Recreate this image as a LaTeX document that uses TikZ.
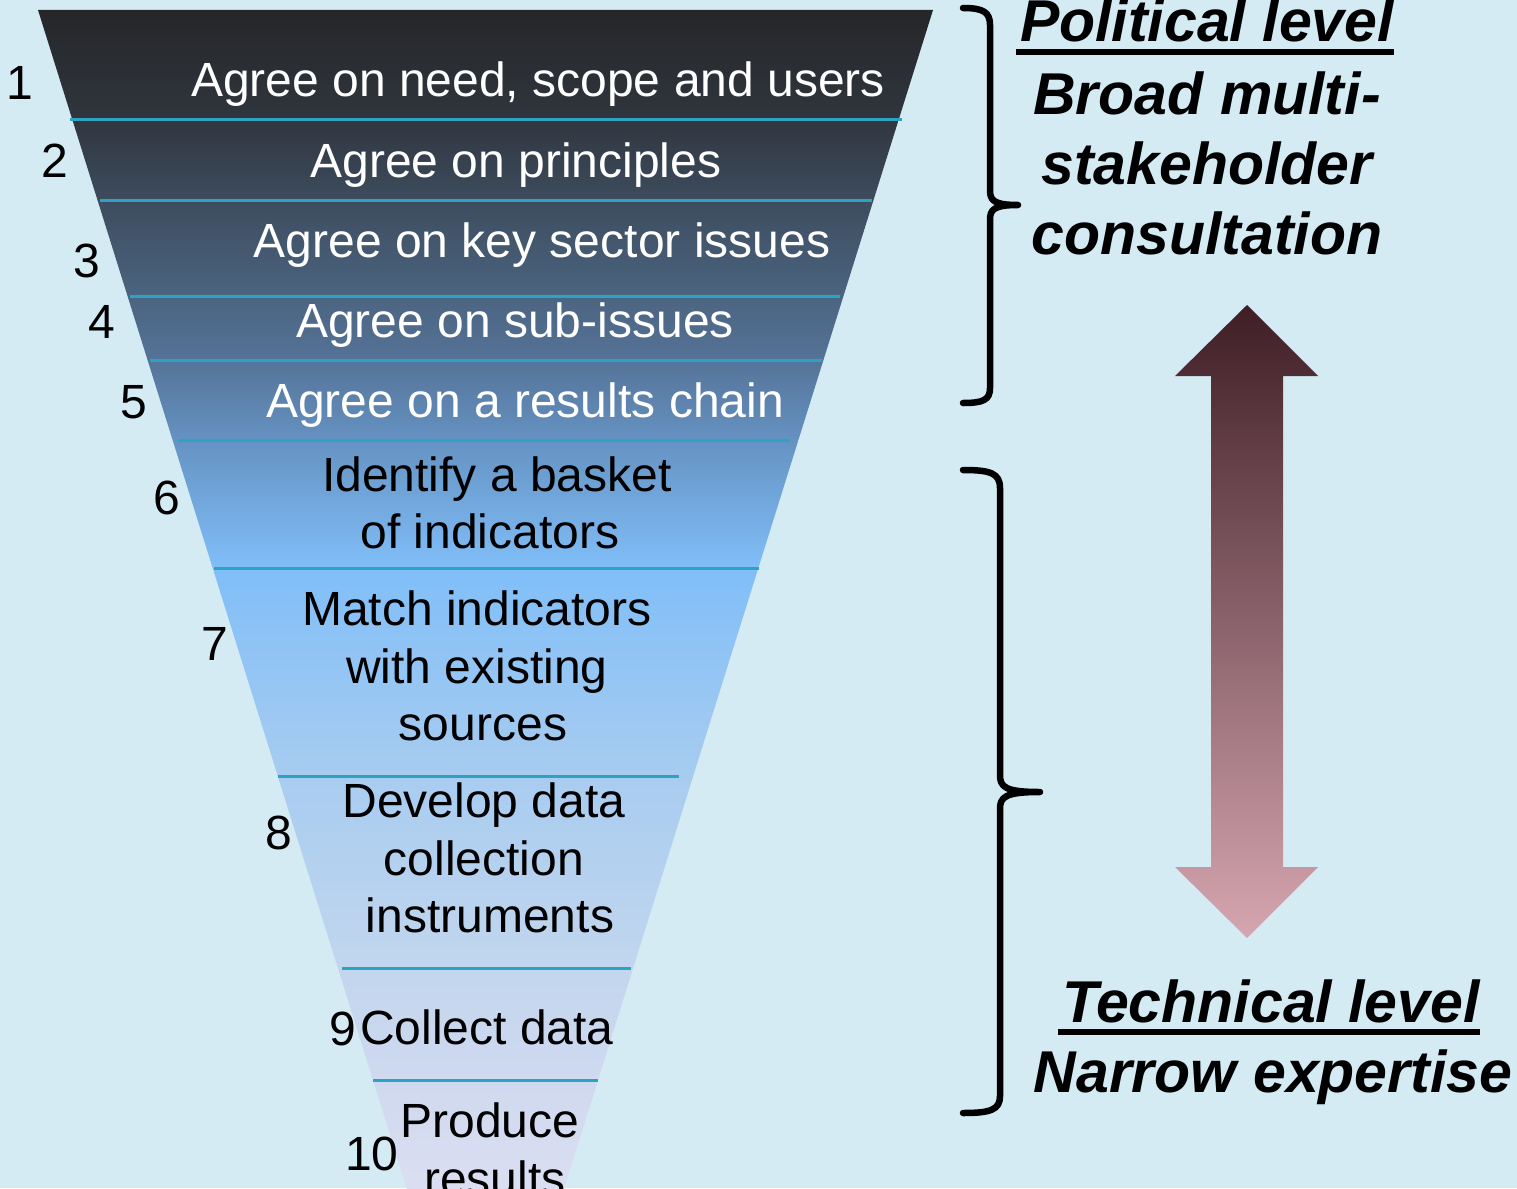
\documentclass[tikz,border=0pt]{standalone}
\usepackage{fontspec}
\setmainfont{Liberation Sans}
\definecolor{bg}{RGB}{212,235,244}
\definecolor{divcol}{HTML}{2CA3C2}
\definecolor{f0}{HTML}{252628}
\definecolor{f1}{HTML}{30363F}
\definecolor{f2}{HTML}{3D4C5E}
\definecolor{f3}{HTML}{4B6480}
\definecolor{f4}{HTML}{557398}
\definecolor{f5}{HTML}{6592C2}
\definecolor{f6}{HTML}{80BEF8}
\definecolor{f7}{HTML}{A8CCF0}
\definecolor{f8}{HTML}{C2D6EE}
\definecolor{f9}{HTML}{CFD9EF}
\definecolor{f10}{HTML}{DCDFF2}
\definecolor{arrtop}{HTML}{3F1E26}
\definecolor{arrbot}{HTML}{D6A6B0}
\tikzset{
  divider/.style={draw=divcol, line width=3pt},
  wtext/.style={text=white, font=\fontsize{48}{58}\selectfont, inner sep=0pt, anchor=base},
  btext/.style={wtext, text=black},
  numtext/.style={btext},
  headtext/.style={font=\fontsize{59}{70}\selectfont\bfseries\itshape, inner sep=0pt, anchor=base, text=black},
  ulines/.style={line width=6pt},
  bracestyle/.style={line width=6.5pt, line cap=round, line join=round},
}
\begin{document}
\begin{tikzpicture}[x=1pt,y=-1pt]
\useasboundingbox (0,0) rectangle (1517,1188);
\fill[bg] (0,0) rectangle (1517,1188);
% funnel bands
\foreach \ya/\yb/\ca/\cb in {10/120/f0/f1,120/200/f1/f2,200/296/f2/f3,296/360/f3/f4,360/440/f4/f5,440/568/f5/f6,568/776/f6/f7,776/968/f7/f8,968/1080/f8/f9,1080/1200/f9/f10}{
  \pgfmathsetmacro\la{38+0.313*(\ya-10)}
  \pgfmathsetmacro\ra{933-0.313*(\ya-10)}
  \pgfmathsetmacro\lb{38+0.313*(\yb-10)}
  \pgfmathsetmacro\rb{933-0.313*(\yb-10)}
  \shade[top color=\ca, bottom color=\cb] (\la,\ya) -- (\ra,\ya) -- (\rb,\yb) -- (\lb,\yb) -- cycle;
}
% dividers
\coordinate (d1l) at (70,120);  \coordinate (d1r) at (902,120);
\coordinate (d2l) at (100,200); \coordinate (d2r) at (872,200);
\coordinate (d3l) at (130,296); \coordinate (d3r) at (840,296);
\coordinate (d4l) at (150,360); \coordinate (d4r) at (822,360);
\coordinate (d5l) at (178,440); \coordinate (d5r) at (790,440);
\coordinate (d6l) at (214,568); \coordinate (d6r) at (759,568);
\coordinate (d7l) at (278,776); \coordinate (d7r) at (679,776);
\coordinate (d8l) at (342,968); \coordinate (d8r) at (631,968);
\coordinate (d9l) at (373,1080); \coordinate (d9r) at (598,1080);
\foreach \i in {1,...,9}{ \draw[divider] (d\i l) -- (d\i r); }
% step texts
\node[wtext] (t1) at (538,97) {Agree on need, scope and users};
\node[wtext] (t2) at (516,177) {Agree on principles};
\node[wtext] (t3) at (542,257) {Agree on key sector issues};
\node[wtext] (t4) at (515,337) {Agree on sub-issues};
\node[wtext] (t5) at (525,417) {Agree on a results chain};
\node[btext] (t6a) at (497,491) {Identify a basket};
\node[btext] (t6b) at (490,548) {of indicators};
\node[btext] (t7a) at (477,625) {Match indicators};
\node[btext] (t7b) at (477,683) {with existing};
\node[btext] (t7c) at (483,740) {sources};
\node[btext] (t8a) at (484,817) {Develop data};
\node[btext] (t8b) at (484,875) {collection};
\node[btext] (t8c) at (490,932) {instruments};
\node[btext] (t9) at (487,1044) {Collect data};
\node[btext] (t10a) at (490,1137) {Produce};
\node[btext] (t10b) at (495,1195) {results};
% numbers
\node[numtext] (n1) at (20,100) {1};
\node[numtext] (n2) at (55,177) {2};
\node[numtext] (n3) at (87,277) {3};
\node[numtext] (n4) at (102,338) {4};
\node[numtext] (n5) at (134,418) {5};
\node[numtext] (n6) at (167,514) {6};
\node[numtext] (n7) at (215,660) {7};
\node[numtext] (n8) at (279,849) {8};
\node[numtext] (n9) at (343,1045) {9};
\node[numtext] (n10) at (372,1170) {10};
% braces
\draw[bracestyle] (963,8) .. controls (983,8) and (990,12) .. (990,25) -- (990,190)
  .. controls (990,200) and (993,205) .. (1018,205)
  .. controls (993,205) and (990,210) .. (990,220) -- (990,388)
  .. controls (990,400) and (983,403) .. (963,403);
\draw[bracestyle] (963,470) .. controls (990,470) and (1000,473) .. (1000,488) -- (1000,775)
  .. controls (1000,787) and (1005,792) .. (1040,792)
  .. controls (1005,792) and (1000,797) .. (1000,809) -- (1000,1096)
  .. controls (1000,1110) and (990,1113) .. (963,1113);
% double arrow
\shade[top color=arrtop, bottom color=arrbot]
  (1247,305) -- (1318,376) -- (1283,376) -- (1283,867) -- (1318,867) -- (1247,938)
  -- (1175,867) -- (1211,867) -- (1211,376) -- (1175,376) -- cycle;
% headings
\node[headtext] (pl) at (1207,42) {Political level};
\draw[ulines] ([xshift=-4pt,yshift=-10pt]pl.base west) -- ([yshift=-10pt]pl.base east);
\node[headtext] (h2) at (1207,114) {Broad multi-};
\node[headtext] (h3) at (1207,184) {stakeholder};
\node[headtext] (h4) at (1207,254) {consultation};
\node[headtext] (tl) at (1271,1022) {Technical level};
\draw[ulines] ([xshift=-4pt,yshift=-10pt]tl.base west) -- ([yshift=-10pt]tl.base east);
\node[headtext] (h6) at (1273,1092) {Narrow expertise};
\end{tikzpicture}
\end{document}
